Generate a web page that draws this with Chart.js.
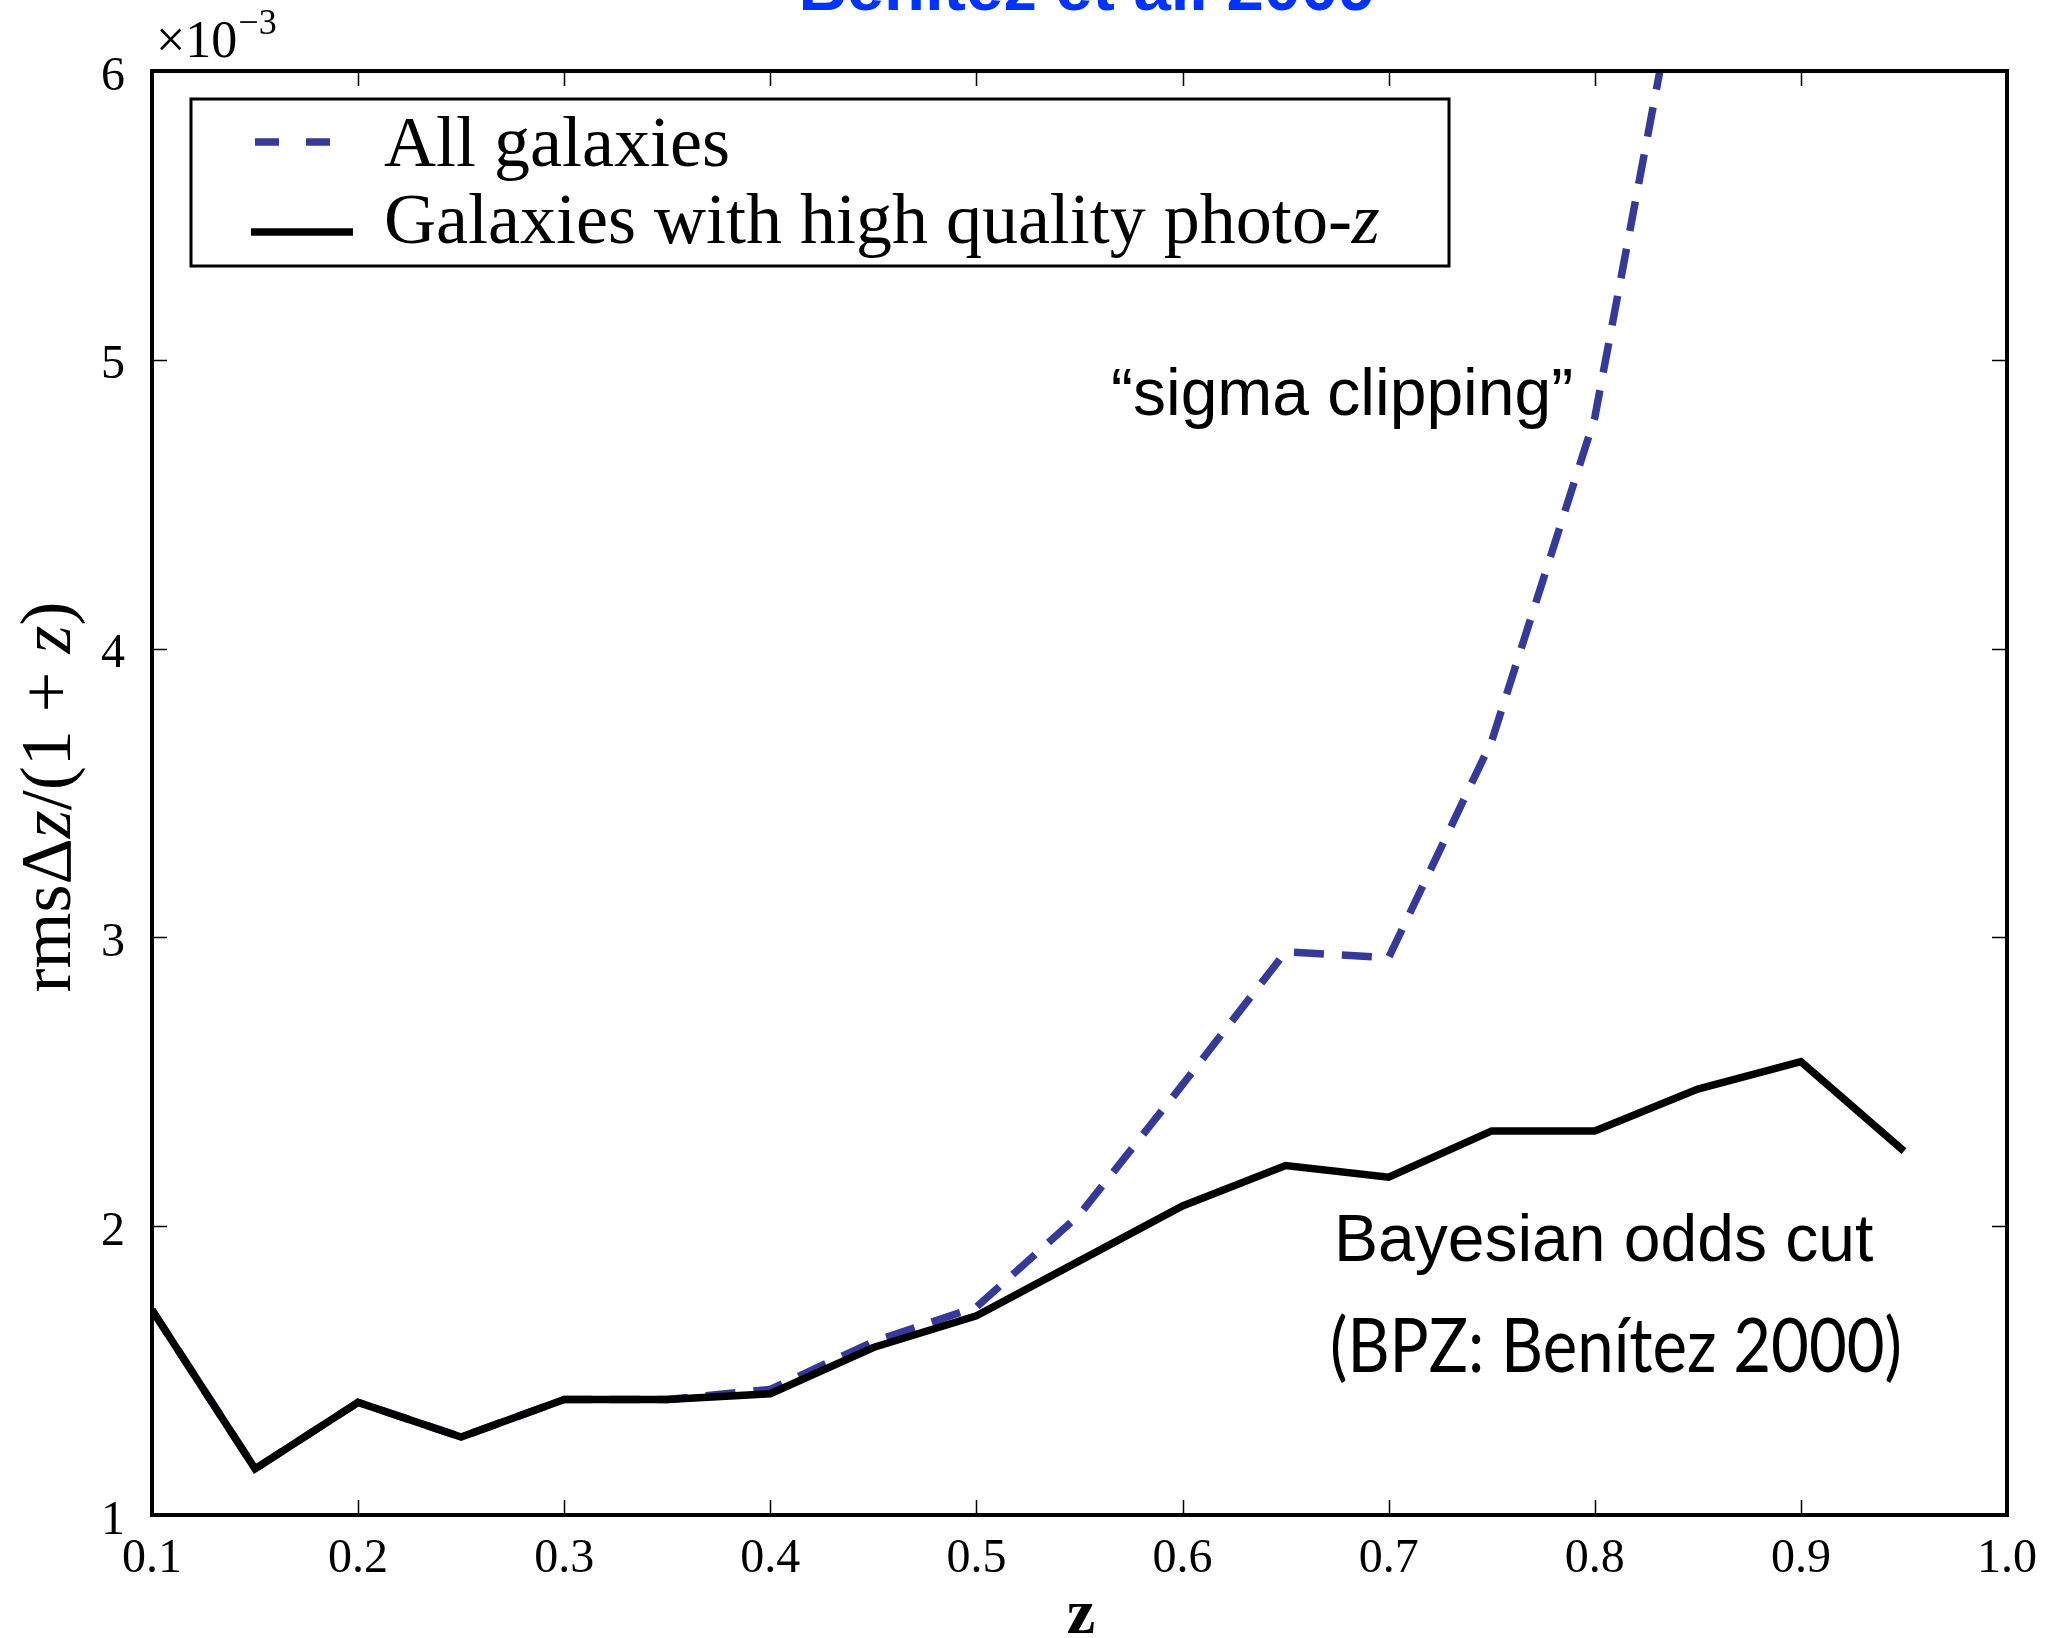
<!DOCTYPE html>
<html>
<head>
<meta charset="utf-8">
<title>rms Δz/(1+z) vs z</title>
<script src="https://cdn.jsdelivr.net/npm/chart.js@4.4.1/dist/chart.umd.min.js"></script>
<style>
  html, body { margin: 0; padding: 0; background: #fff; overflow: hidden; }
  #wrap { width: 2053px; height: 1638px; }
</style>
</head>
<body>
<div id="wrap"><canvas id="c" width="2053" height="1638"></canvas></div>
<script>
// redshift bins
const redshift = [0.10, 0.15, 0.20, 0.25, 0.30, 0.35, 0.40, 0.45, 0.50,
                  0.55, 0.60, 0.65, 0.70, 0.75, 0.80, 0.85, 0.90, 0.95];
// rms Δz/(1+z), in units of 1e-3
const rmsAllGalaxies = [1.71, 1.16, 1.39, 1.27, 1.40, 1.40, 1.435, 1.60, 1.72,
                        2.04, 2.49, 2.95, 2.93, 3.68, 4.80, 6.70];
const rmsHighQuality = [1.71, 1.16, 1.39, 1.27, 1.40, 1.40, 1.42, 1.58, 1.69,
                        1.88, 2.07, 2.21, 2.17, 2.33, 2.33, 2.475, 2.57, 2.26];
// axis ticks
const xTicks = [0.1, 0.2, 0.3, 0.4, 0.5, 0.6, 0.7, 0.8, 0.9, 1.0];
const yTicks = [1, 2, 3, 4, 5, 6];

const SERIF = '"Liberation Serif", "DejaVu Serif", serif';
const SANS = '"Liberation Sans", Arial, sans-serif';
const BLUE = '#353a99';
const DASH = [30, 18];
const LW = 7.5;

const toPoints = (xs, ys) => ys.map((v, i) => ({ x: xs[i], y: v }));

// draws a run of [text, font] pieces left to right starting at x
function drawRuns(ctx, runs, x, y) {
  let cx = x;
  for (const [txt, font] of runs) {
    ctx.font = font;
    ctx.fillText(txt, cx, y);
    cx += ctx.measureText(txt).width;
  }
  return cx;
}
function runsWidth(ctx, runs) {
  let w = 0;
  for (const [txt, font] of runs) { ctx.font = font; w += ctx.measureText(txt).width; }
  return w;
}

const decorations = {
  id: 'decorations',
  afterDraw(chart) {
    const { ctx, chartArea: a, scales: { x, y } } = chart;
    const ds = chart.data.datasets;
    ctx.save();

    // inward tick marks on all four sides
    ctx.strokeStyle = '#000';
    ctx.lineWidth = 1.5;
    ctx.beginPath();
    xTicks.forEach(v => {
      const px = Math.round(x.getPixelForValue(v)) + 0.5;
      ctx.moveTo(px, a.bottom); ctx.lineTo(px, a.bottom - 15);
      ctx.moveTo(px, a.top); ctx.lineTo(px, a.top + 15);
    });
    yTicks.forEach(v => {
      const py = Math.round(y.getPixelForValue(v)) + 0.5;
      ctx.moveTo(a.left, py); ctx.lineTo(a.left + 15, py);
      ctx.moveTo(a.right, py); ctx.lineTo(a.right - 15, py);
    });
    ctx.stroke();

    // axes frame
    ctx.lineWidth = 4;
    ctx.strokeRect(a.left, a.top, a.right - a.left, a.bottom - a.top);

    // legend
    const lg = { left: 191, top: 99, right: 1449, bottom: 266 };
    ctx.fillStyle = '#fff';
    ctx.fillRect(lg.left, lg.top, lg.right - lg.left, lg.bottom - lg.top);
    ctx.lineWidth = 3;
    ctx.strokeStyle = '#000';
    ctx.strokeRect(lg.left, lg.top, lg.right - lg.left, lg.bottom - lg.top);

    const rows = [
      { d: ds[0], x0: 255, x1: 332, dash: [24, 27], yLine: 142, yText: 166,
        runs: [[ds[0].label, `72px ${SERIF}`]] },
      { d: ds[1], x0: 251, x1: 353, dash: [], yLine: 232, yText: 243,
        runs: [['Galaxies with high quality photo-', `72px ${SERIF}`], ['z', `italic 72px ${SERIF}`]] }
    ];
    rows.forEach(r => {
      ctx.save();
      ctx.strokeStyle = r.d.borderColor;
      ctx.lineWidth = r.d.borderWidth;
      ctx.lineCap = 'butt';
      ctx.setLineDash(r.dash);
      ctx.beginPath();
      ctx.moveTo(r.x0, r.yLine); ctx.lineTo(r.x1, r.yLine);
      ctx.stroke();
      ctx.restore();
      ctx.fillStyle = '#000';
      ctx.textBaseline = 'alphabetic';
      ctx.textAlign = 'left';
      drawRuns(ctx, r.runs, 384, r.yText);
    });

    // annotations
    ctx.fillStyle = '#000';
    ctx.textAlign = 'left';
    ctx.textBaseline = 'alphabetic';
    ctx.font = `66px ${SANS}`;
    ctx.fillText('\u201Csigma clipping\u201D', 1111, 415);
    ctx.font = `66px ${SANS}`;
    ctx.fillText('Bayesian odds cut', 1334, 1261);

    // citation, humanist face narrowed to its set width
    ctx.save();
    ctx.font = '76px Lato, "Open Sans", sans-serif';
    const cite = '(BPZ: Ben\u00EDtez 2000)';
    const cw = ctx.measureText(cite).width;
    ctx.translate(1330, 1372);
    ctx.scale(572 / cw, 1);
    ctx.fillText(cite, 0, 0);
    ctx.restore();

    // y-axis title, rotated
    ctx.save();
    ctx.translate(70, 797);
    ctx.rotate(-Math.PI / 2);
    const yRuns = [['rms\u0394', `72px ${SERIF}`], ['z', `italic 72px ${SERIF}`],
                   ['/(1 + ', `72px ${SERIF}`], ['z', `italic 72px ${SERIF}`], [')', `72px ${SERIF}`]];
    const yw = runsWidth(ctx, yRuns);
    drawRuns(ctx, yRuns, -yw / 2, 0);
    ctx.restore();

    // x-axis title
    ctx.font = `bold 64px ${SERIF}`;
    ctx.textAlign = 'center';
    ctx.fillText('z', 1081, 1633);

    // multiplier
    ctx.textAlign = 'left';
    const mEnd = drawRuns(ctx, [['\u00D710', `52px ${SERIF}`]], 156, 57);
    ctx.font = `36px ${SERIF}`;
    ctx.fillText('\u22123', mEnd + 1, 34);

    // heading
    ctx.fillStyle = '#0033ff';
    ctx.font = `bold 67px ${SANS}`;
    ctx.textAlign = 'center';
    ctx.fillText('Ben\u00EDtez et al. 2009', 1087, 10);

    ctx.restore();
  }
};

new Chart(document.getElementById('c'), {
  type: 'line',
  data: {
    datasets: [
      {
        label: 'All galaxies',
        data: toPoints(redshift, rmsAllGalaxies),
        borderColor: BLUE,
        borderWidth: LW,
        borderDash: DASH,
        borderCapStyle: 'butt',
        borderJoinStyle: 'miter',
        pointRadius: 0,
        tension: 0,
        fill: false,
        order: 2
      },
      {
        label: 'Galaxies with high quality photo-z',
        data: toPoints(redshift, rmsHighQuality),
        borderColor: '#000',
        borderWidth: LW,
        borderCapStyle: 'butt',
        borderJoinStyle: 'miter',
        pointRadius: 0,
        tension: 0,
        fill: false,
        order: 1
      }
    ]
  },
  options: {
    responsive: false,
    animation: false,
    devicePixelRatio: 1,
    layout: { padding: { top: 71, right: 36, left: 0, bottom: 0 } },
    plugins: { legend: { display: false }, tooltip: { enabled: false }, title: { display: false } },
    scales: {
      x: {
        type: 'linear',
        min: 0.1,
        max: 1.0,
        afterBuildTicks: s => { s.ticks = xTicks.map(v => ({ value: v })); },
        afterFit: s => { s.height = 123; },
        grid: { display: false, drawTicks: false },
        border: { display: false },
        ticks: {
          color: '#000',
          padding: 16,
          maxRotation: 0,
          autoSkip: false,
          font: { family: SERIF, size: 48 },
          callback: v => Number(v).toFixed(1)
        }
      },
      y: {
        type: 'linear',
        min: 1,
        max: 6,
        afterBuildTicks: s => { s.ticks = yTicks.map(v => ({ value: v })); },
        afterFit: s => { s.width = 152; },
        grid: { display: false, drawTicks: false },
        border: { display: false },
        ticks: {
          color: '#000',
          padding: 27,
          labelOffset: 6,
          autoSkip: false,
          font: { family: SERIF, size: 48 },
          callback: v => String(v)
        }
      }
    }
  },
  plugins: [decorations]
});
</script>
</body>
</html>
